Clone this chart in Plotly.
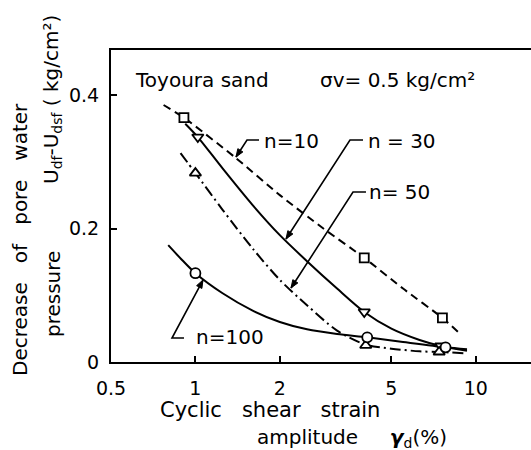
import math
import plotly.graph_objects as go

# ---- data ----
# measured points (markers)
n10_x = [0.91, 4.0, 7.6]
n10_y = [0.366, 0.156, 0.066]
n30_x = [1.02, 4.0, 7.5]
n30_y = [0.337, 0.075, 0.024]
n50_x = [1.0, 4.05, 7.4]
n50_y = [0.283, 0.025, 0.015]
n100_x = [1.0, 4.1, 7.8]
n100_y = [0.133, 0.037, 0.022]

# fitted curves
c10_x = [0.77, 0.91, 1.39, 2.0, 2.86, 4.0, 5.5, 7.6, 8.9]
c10_y = [0.385, 0.366, 0.306, 0.250, 0.200, 0.156, 0.110, 0.066, 0.040]
c30_x = [0.92, 1.02, 1.25, 1.6, 2.0, 2.5, 3.2, 4.0, 5.0, 6.3, 7.5, 9.3]
c30_y = [0.357, 0.337, 0.290, 0.235, 0.190, 0.151, 0.110, 0.075, 0.050, 0.033, 0.024, 0.017]
c50_x = [0.885, 1.0, 1.25, 1.6, 2.0, 2.5, 3.2, 4.05, 5.0, 6.3, 7.4, 9.3]
c50_y = [0.313, 0.283, 0.228, 0.170, 0.123, 0.085, 0.047, 0.026, 0.020, 0.016, 0.015, 0.013]
c100_x = [0.80, 0.9, 1.0, 1.25, 1.6, 2.0, 2.5, 3.2, 4.1, 5.5, 7.8, 9.3]
c100_y = [0.175, 0.152, 0.133, 0.103, 0.077, 0.060, 0.049, 0.042, 0.037, 0.030, 0.022, 0.019]

x_ticks = [0.5, 1, 2, 5, 10]
x_ticktext = ["0.5", "1", "2", "5", "10"]
y_ticks = [0, 0.2, 0.4]
y_ticktext = ["0", "0.2", "0.4"]

FONT = "DejaVu Sans"
NB = "\u00a0"

W, H = 531, 450
L, R, T, B = 111, 0, 50, 88
PW, PH = W - L - R, H - T - B


def px(x):
    return (x - L) / PW


def py(y):
    return (H - B - y) / PH


fig = go.Figure()

curves = [
    (c10_x, c10_y, "8px,5px", 0.6),
    (c30_x, c30_y, "solid", 0.8),
    (c50_x, c50_y, "11px,4px,2px,4px", 0.8),
    (c100_x, c100_y, "solid", 0.8),
]
for cx, cy, dash, sm in curves:
    fig.add_trace(go.Scatter(x=cx, y=cy, mode="lines",
                             line=dict(color="black", width=2, dash=dash,
                                       shape="spline", smoothing=sm),
                             showlegend=False, hoverinfo="skip"))

pts = [
    (n10_x, n10_y, "square", 9),
    (n30_x, n30_y, "triangle-down", 10),
    (n50_x, n50_y, "triangle-up", 10),
    (n100_x, n100_y, "circle", 10),
]
for mx, my, sym, sz in pts:
    fig.add_trace(go.Scatter(x=mx, y=my, mode="markers",
                             marker=dict(symbol=sym, size=sz, color="white",
                                         line=dict(color="black", width=1.8)),
                             showlegend=False))

annotations = []
shapes = []


def txt(text, x, y, size=20, xanchor="left", angle=0, yanchor="middle"):
    annotations.append(dict(text=text, x=x, y=y, xref="paper", yref="paper",
                            xanchor=xanchor, yanchor=yanchor, showarrow=False,
                            textangle=angle,
                            font=dict(family=FONT, size=size, color="black")))


# header texts
txt("Toyoura sand", px(133), py(80))
txt("σv=" + NB + "0.5 kg/cm²", px(318), py(80))

# curve labels
txt("n=10", px(262), py(141))
txt("n" + NB + "=" + NB + "30", px(366), py(141))
txt("n=" + NB + "50", px(367), py(192))
txt("n=100", px(194), py(337))

# leader lines: tip -> corner -> end of horizontal (pixel positions)
leaders = [
    ((236, 157), (247, 140), (259, 140)),
    ((286, 239), (350, 140), (363, 140)),
    ((291, 288), (353, 192), (366, 192)),
    ((203, 280), (172, 338), (184, 338)),
]
for tip, corner, end in leaders:
    pth = "M {:.4f},{:.4f} L {:.4f},{:.4f} L {:.4f},{:.4f}".format(
        px(tip[0]), py(tip[1]), px(corner[0]), py(corner[1]), px(end[0]), py(end[1]))
    shapes.append(dict(type="path", xref="paper", yref="paper", path=pth,
                       line=dict(color="black", width=1.6)))
    dx, dy = tip[0] - corner[0], tip[1] - corner[1]
    ln = math.hypot(dx, dy)
    ux, uy = dx / ln, dy / ln
    nx, ny = -uy, ux
    hl, hw = 8, 3
    bx, by = tip[0] - ux * hl, tip[1] - uy * hl
    p1 = (bx + nx * hw, by + ny * hw)
    p2 = (bx - nx * hw, by - ny * hw)
    head = "M {:.4f},{:.4f} L {:.4f},{:.4f} L {:.4f},{:.4f} Z".format(
        px(tip[0]), py(tip[1]), px(p1[0]), py(p1[1]), px(p2[0]), py(p2[1]))
    shapes.append(dict(type="path", xref="paper", yref="paper", path=head,
                       fillcolor="black", line=dict(color="black", width=1)))

# axis titles
sp3 = NB * 3
txt("Decrease" + sp3 + "of" + sp3 + "pore" + sp3 + "water", px(20), py(240),
    xanchor="center", angle=-90)
txt("pressure", px(53), py(294), xanchor="center", angle=-90)
txt("U<sub>df</sub>-U<sub>dsf</sub>" + NB + "(" + NB + "kg/cm²)", px(52), py(100),
    xanchor="center", angle=-90)
txt("Cyclic" + sp3 + "shear" + sp3 + "strain", px(270), py(410), size=21,
    xanchor="center")
txt("amplitude" + NB * 5 + "<b><i>γ</i></b><sub>d</sub>(%)", px(255), py(438))

fig.update_layout(
    width=W, height=H,
    margin=dict(l=L, r=R, t=T, b=B, pad=0),
    paper_bgcolor="white", plot_bgcolor="white",
    annotations=annotations, shapes=shapes,
    font=dict(family=FONT, size=18, color="black"),
    xaxis=dict(type="log", range=[-0.3010, 1.1967],
               tickvals=x_ticks, ticktext=x_ticktext,
               ticks="inside", ticklen=6, tickwidth=1.6, tickcolor="black",
               showline=True, linecolor="black", linewidth=2, mirror=True,
               showgrid=False, zeroline=False,
               ticklabelstandoff=8,
               tickfont=dict(family=FONT, size=19, color="black")),
    yaxis=dict(range=[0, 0.4674],
               tickvals=y_ticks, ticktext=y_ticktext,
               ticks="inside", ticklen=6, tickwidth=1.6, tickcolor="black",
               showline=True, linecolor="black", linewidth=2, mirror=False,
               showgrid=False, zeroline=False,
               ticklabelstandoff=6,
               tickfont=dict(family=FONT, size=19, color="black")),
)

fig.write_html("out.html")
